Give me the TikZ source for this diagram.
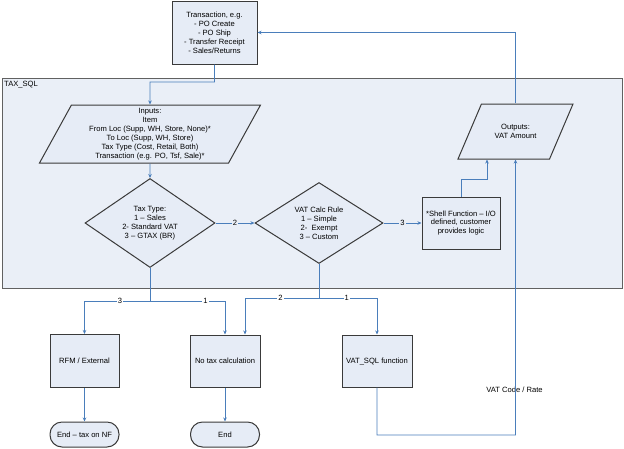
\documentclass[tikz,border=0pt]{standalone}
\usepackage{fontspec}
\setmainfont{Liberation Sans}
\usetikzlibrary{arrows.meta,shapes,shapes.geometric}

\definecolor{boxfill}{HTML}{E6ECF6}
\definecolor{sqlfill}{HTML}{EAEFF7}
\definecolor{edge}{HTML}{3A3A3A}
\definecolor{flow}{HTML}{4A7EBB}

\begin{document}
\begin{tikzpicture}[x=1pt,y=-1pt,font=\fontsize{7.6}{8.9}\selectfont]
	\tikzstyle{B} = [draw=edge,fill=boxfill,line width=1pt,align=center,inner sep=1pt]
	\tikzstyle{D} = [B,diamond,minimum width=130pt,minimum height=74pt,inner sep=0pt]
	\tikzstyle{P} = [B,trapezium,trapezium stretches body,trapezium left angle=60,trapezium right angle=120]
	\tikzstyle{T} = [B,rounded corners=12pt,minimum width=69pt,minimum height=25pt]
	\tikzstyle{C} = [-{Stealth[length=4pt,width=3.5pt]},color=flow,line width=0.8pt]
	\tikzstyle{lbl} = [fill=white,inner sep=1pt,text=black]
	\useasboundingbox (0,0) rectangle (624,448);
	\node[draw=edge!80,fill=sqlfill,line width=1.1pt,minimum width=620pt,minimum height=210pt,anchor=north west](TaxSQL) at (2,78) {};
	\node[anchor=north west,inner sep=0pt](TaxLbl) at ([shift={(2pt,-3pt)}]TaxSQL.north west) {TAX\_SQL};
	\node[B,minimum width=85pt,minimum height=63pt](Tr) at (214.5,32.5) {Transaction, e.g.\\- PO Create\\- PO Ship\\- Transfer Receipt\\- Sales/Returns};
	\node[P,inner ysep=2pt,minimum width=221pt,minimum height=58pt](In) at (150,134) {Inputs:\\Item\\From Loc (Supp, WH, Store, None)*\\To Loc (Supp, WH, Store)\\Tax Type (Cost, Retail, Both)\\Transaction (e.g. PO, Tsf, Sale)*};
	\node[D,below of=In,node distance=89pt](TT) {Tax Type:\\1 -- Sales\\2- Standard VAT\\3 -- GTAX (BR)};
	\node[D,right of=TT,node distance=169pt,minimum width=128pt](VR) {VAT Calc Rule\\1 -- Simple\\2-\ \ Exempt\\3 -- Custom};
	\node[B,right of=VR,node distance=142pt,minimum width=78pt,minimum height=52pt](Sh) {*Shell Function -- I/O\\defined, customer\\provides logic};
	\node[P,trapezium left angle=65,trapezium right angle=115,inner ysep=18pt,minimum width=115pt,minimum height=55pt](Out) at (515.5,131.5) {Outputs:\\VAT Amount};
	\node[B,minimum width=69pt,minimum height=53pt](RFM) at (84.5,361) {RFM / External};
	\node[B,right of=RFM,node distance=140.5pt,minimum width=70pt,minimum height=52pt](NT) {No tax calculation};
	\node[B,right of=NT,node distance=152pt,minimum width=70pt,minimum height=52pt](VS) {VAT\_SQL function};
	\node[T,below of=RFM,node distance=73.5pt](EndNF) {End -- tax on NF};
	\node[T,below of=NT,node distance=73.5pt](End) {End};
	\node[inner sep=0pt](VCR) at (514.5,390) {VAT Code / Rate};
	% joints of the connectors
	\coordinate (j1) at (150,82);
	\coordinate (j2) at (150,301);
	\coordinate (j3) at (319,298);
	\coordinate (j4) at (487,179);
	\coordinate (j5) at (515.5,435);
	\draw[C](Tr.south) |- (j1) -- (In.north);
	\draw[C](In.south) -- (TT.north);
	\draw[C](TT.east) -- node[lbl,fill=sqlfill]{2} (VR.west);
	\draw[C](VR.east) -- node[lbl,fill=sqlfill]{3} (Sh.west);
	\draw[C](Sh.north) |- (j4) -- (j4 |- Out.south);
	\draw[C](Out.north) |- (Tr.east);
	\draw[-,color=flow,line width=0.8pt](TT.south) -- (j2);
	\draw[C](j2) -| node[lbl,pos=0.23]{3} (RFM.north);
	\draw[C](j2) -| node[lbl,pos=0.37]{1} (NT.north);
	\draw[-,color=flow,line width=0.8pt](VR.south) -- (j3);
	\draw[C](j3) -| node[lbl,pos=0.26]{2} ([xshift=20pt]NT.north);
	\draw[C](j3) -| node[lbl,pos=0.24]{1} (VS.north);
	\draw[C](VS.south) |- (j5) -- (Out.south);
	\draw[C](RFM.south) -- (EndNF.north);
	\draw[C](NT.south) -- (End.north);
\end{tikzpicture}
\end{document}
